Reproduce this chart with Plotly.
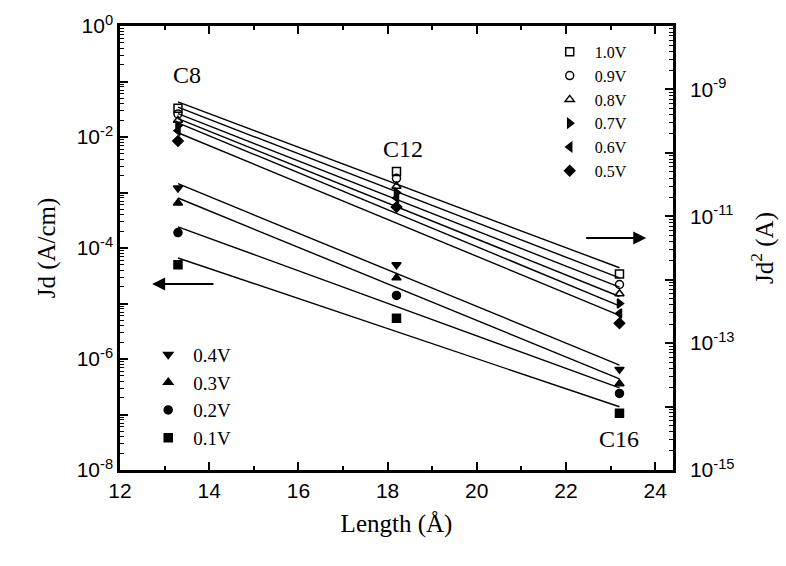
import numpy as np
import plotly.graph_objects as go

# ---- data ----
length = [13.3, 18.2, 23.2]          # C8, C12, C16 (Angstrom)
labels = ["C8", "C12", "C16"]
voltages_high = ["1.0V", "0.9V", "0.8V", "0.7V", "0.6V", "0.5V"]
voltages_low = ["0.4V", "0.3V", "0.2V", "0.1V"]
jd = {
    "1.0V": [3.3e-2, 2.4e-3, 3.4e-5],
    "0.9V": [2.6e-2, 1.8e-3, 2.2e-5],
    "0.8V": [2.0e-2, 1.3e-3, 1.5e-5],
    "0.7V": [1.6e-2, 1.0e-3, 1.0e-5],
    "0.6V": [1.3e-2, 8.0e-4, 6.6e-6],
    "0.5V": [8.5e-3, 5.5e-4, 4.4e-6],
    "0.4V": [1.2e-3, 5.0e-5, 6.5e-7],
    "0.3V": [6.5e-4, 2.9e-5, 3.6e-7],
    "0.2V": [1.9e-4, 1.4e-5, 2.4e-7],
    "0.1V": [5.0e-5, 5.4e-6, 1.05e-7],
}
symbols = {
    "1.0V": "square-open", "0.9V": "circle-open", "0.8V": "triangle-up-open",
    "0.7V": "triangle-right", "0.6V": "triangle-left", "0.5V": "diamond",
    "0.4V": "triangle-down", "0.3V": "triangle-up", "0.2V": "circle", "0.1V": "square",
}

SERIF = "Liberation Serif, Times New Roman, serif"
SANS = "Liberation Sans, Arial, sans-serif"

fig = go.Figure()

# fitted lines (least squares in log space)
for v in voltages_high + voltages_low:
    k, b = np.polyfit(length, np.log10(jd[v]), 1)
    xs = np.array([length[0], length[-1]])
    fig.add_trace(go.Scatter(x=xs, y=10 ** (k * xs + b), mode="lines",
                             line=dict(color="black", width=1.4),
                             showlegend=False, hoverinfo="skip"))

for v in voltages_high:
    fig.add_trace(go.Scatter(x=length, y=jd[v], mode="markers", name=v,
                             marker=dict(symbol=symbols[v], size=8, color="black",
                                         line=dict(color="black", width=1.5)),
                             legend="legend"))
for v in voltages_low:
    fig.add_trace(go.Scatter(x=length, y=jd[v], mode="markers", name=v,
                             marker=dict(symbol=symbols[v], size=8, color="black",
                                         line=dict(color="black", width=1.5)),
                             legend="legend2"))

# invisible trace so that the right-hand axis is drawn
fig.add_trace(go.Scatter(x=[length[0]], y=[1e-12], yaxis="y2", mode="markers",
                         marker=dict(opacity=0), showlegend=False, hoverinfo="skip"))

# ticks
left_major = [10.0 ** k for k in range(-8, 1)]
left_text = [f"10<sup>{k}</sup>" if k % 2 == 0 else " " for k in range(-8, 1)]
right_major = [10.0 ** k for k in range(-15, -7)]
right_text = [f"10<sup>{k}</sup>" if k % 2 == 1 else " " for k in range(-15, -7)]

fig.update_layout(
    width=786, height=566,
    margin=dict(l=120, r=113, t=24, b=96),
    plot_bgcolor="white", paper_bgcolor="white",
    xaxis=dict(range=[12, 24.4], tickmode="linear", tick0=12, dtick=2,
               ticks="inside", ticklen=8, tickwidth=2, tickcolor="black",
               minor=dict(ticks="inside", ticklen=4, dtick=1, tickwidth=1.5, tickcolor="black"),
               showline=True, linewidth=2.5, linecolor="black", mirror="ticks",
               showgrid=False, zeroline=False, layer="above traces",
               tickfont=dict(family=SANS, size=21, color="black"),
               title=dict(text="Length (Å)", font=dict(family=SERIF, size=25, color="black"), standoff=14)),
    yaxis=dict(type="log", range=[-8, 0], tickmode="array", tickvals=left_major,
               ticktext=left_text,
               ticks="inside", ticklen=8, tickwidth=2, tickcolor="black",
               minor=dict(ticks="inside", ticklen=4, dtick="D1", tickwidth=1, tickcolor="black"),
               showline=True, linewidth=2.5, linecolor="black",
               showgrid=False, zeroline=False, layer="above traces",
               tickfont=dict(family=SANS, size=21, color="black"),
               title=dict(text="Jd (A/cm)", font=dict(family=SERIF, size=25, color="black"), standoff=14)),
    yaxis2=dict(type="log", range=[-15, -8], overlaying="y", side="right", anchor="x",
                tickmode="array", tickvals=right_major, ticktext=right_text,
                ticks="inside", ticklen=8, tickwidth=2, tickcolor="black",
                minor=dict(ticks="inside", ticklen=4, dtick="D1", tickwidth=1, tickcolor="black"),
                showline=True, linewidth=2.5, linecolor="black",
                showgrid=False, zeroline=False, ticklabelstandoff=10,
                tickfont=dict(family=SANS, size=21, color="black"),
                title=dict(text="Jd<sup>2</sup> (A)", font=dict(family=SERIF, size=25, color="black"), standoff=22)),
    legend=dict(x=0.768, y=0.98, xanchor="left", yanchor="top",
                bgcolor="rgba(0,0,0,0)", font=dict(family=SERIF, size=16, color="black"),
                tracegroupgap=0, itemwidth=40),
    legend2=dict(x=0.042, y=0.03, xanchor="left", yanchor="bottom",
                 bgcolor="rgba(0,0,0,0)", font=dict(family=SERIF, size=19, color="black"),
                 tracegroupgap=0, itemwidth=40),
    showlegend=True,
)

# labels for the molecules
label_pos = [(13.5, -0.88), (18.35, -2.21), (23.2, -7.45)]
for lab, (lx, ly) in zip(labels, label_pos):
    fig.add_annotation(x=lx, y=ly, xref="x", yref="y", text=lab, showarrow=False,
                       font=dict(family=SERIF, size=24, color="black"))

# arrows pointing to the corresponding axes
fig.add_annotation(x=12.72, y=-4.65, ax=14.13, ay=-4.65, xref="x", yref="y",
                   axref="x", ayref="y", text="", showarrow=True,
                   arrowhead=2, arrowsize=1.3, arrowwidth=2, arrowcolor="black")
fig.add_annotation(x=23.8, y=-3.82, ax=22.42, ay=-3.82, xref="x", yref="y",
                   axref="x", ayref="y", text="", showarrow=True,
                   arrowhead=2, arrowsize=1.3, arrowwidth=2, arrowcolor="black")

fig.write_html("out.html")
